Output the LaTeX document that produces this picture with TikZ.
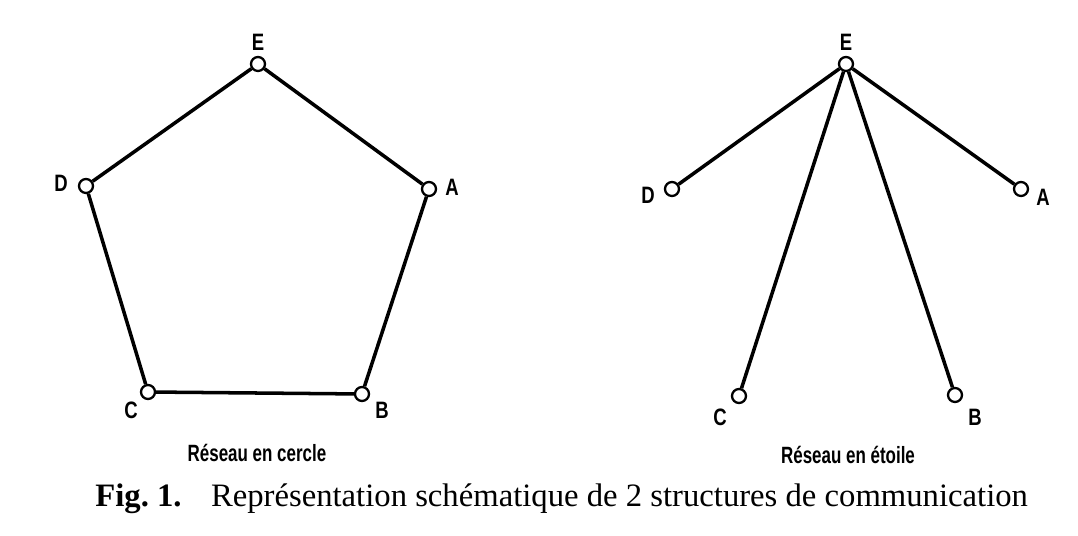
\documentclass[tikz,border=0pt]{standalone}
\usepackage{fontspec}
\setmainfont{Liberation Serif}
\newfontfamily\condsf[FakeStretch=0.78]{Liberation Sans}
\newfontfamily\legsf[FakeStretch=0.72]{Liberation Sans}
\usepackage{tikz}

\tikzset{
  noeud/.style={circle, draw, fill=white, line width=1.3pt, inner sep=0pt, minimum size=0.28cm},
  lien/.style={line width=2pt},
  lettre/.style={font=\condsf\bfseries\fontsize{13.5}{14}\selectfont},
  legende/.style={font=\legsf\bfseries\fontsize{13.4}{14}\selectfont}
}

\begin{document}
\begin{tikzpicture}
\useasboundingbox (0,0) rectangle (21.56,10.72);
% reseau en cercle
\node[noeud] (cE) at (5.16,9.44) {};
\node[noeud] (cD) at (1.72,7.00) {};
\node[noeud] (cA) at (8.58,6.94) {};
\node[noeud] (cC) at (2.96,2.88) {};
\node[noeud] (cB) at (7.24,2.84) {};
\draw[lien] (cE) -- (cA) -- (cB) -- (cC) -- (cD) -- (cE);
\node[lettre] (lcE) at (5.16,9.88) {E};
\node[lettre] (lcD) at (1.22,7.06) {D};
\node[lettre] (lcA) at (9.04,6.98) {A};
\node[lettre] (lcC) at (2.62,2.52) {C};
\node[lettre] (lcB) at (7.64,2.52) {B};
\node[legende] (tc) at (5.14,1.66) {Réseau en cercle};
% reseau en etoile
\node[noeud] (eE) at (16.92,9.44) {};
\node[noeud] (eD) at (13.44,6.94) {};
\node[noeud] (eA) at (20.42,6.94) {};
\node[noeud] (eC) at (14.78,2.80) {};
\node[noeud] (eB) at (19.10,2.82) {};
\foreach \n in {eD,eA,eC,eB}
  \draw[lien] (eE) -- (\n);
\node[lettre] (leE) at (16.92,9.88) {E};
\node[lettre] (leD) at (12.96,6.82) {D};
\node[lettre] (leA) at (20.86,6.78) {A};
\node[lettre] (leC) at (14.40,2.38) {C};
\node[lettre] (leB) at (19.50,2.38) {B};
\node[legende] (te) at (16.96,1.62) {Réseau en étoile};
% titre
\node[anchor=base west, inner sep=0pt, font=\fontsize{18.6}{20}\selectfont] (titre) at (1.90,0.58)
  {\textbf{Fig.~1.}\hspace{0.9em}Représentation schématique de 2 structures de communication};
\end{tikzpicture}
\end{document}
